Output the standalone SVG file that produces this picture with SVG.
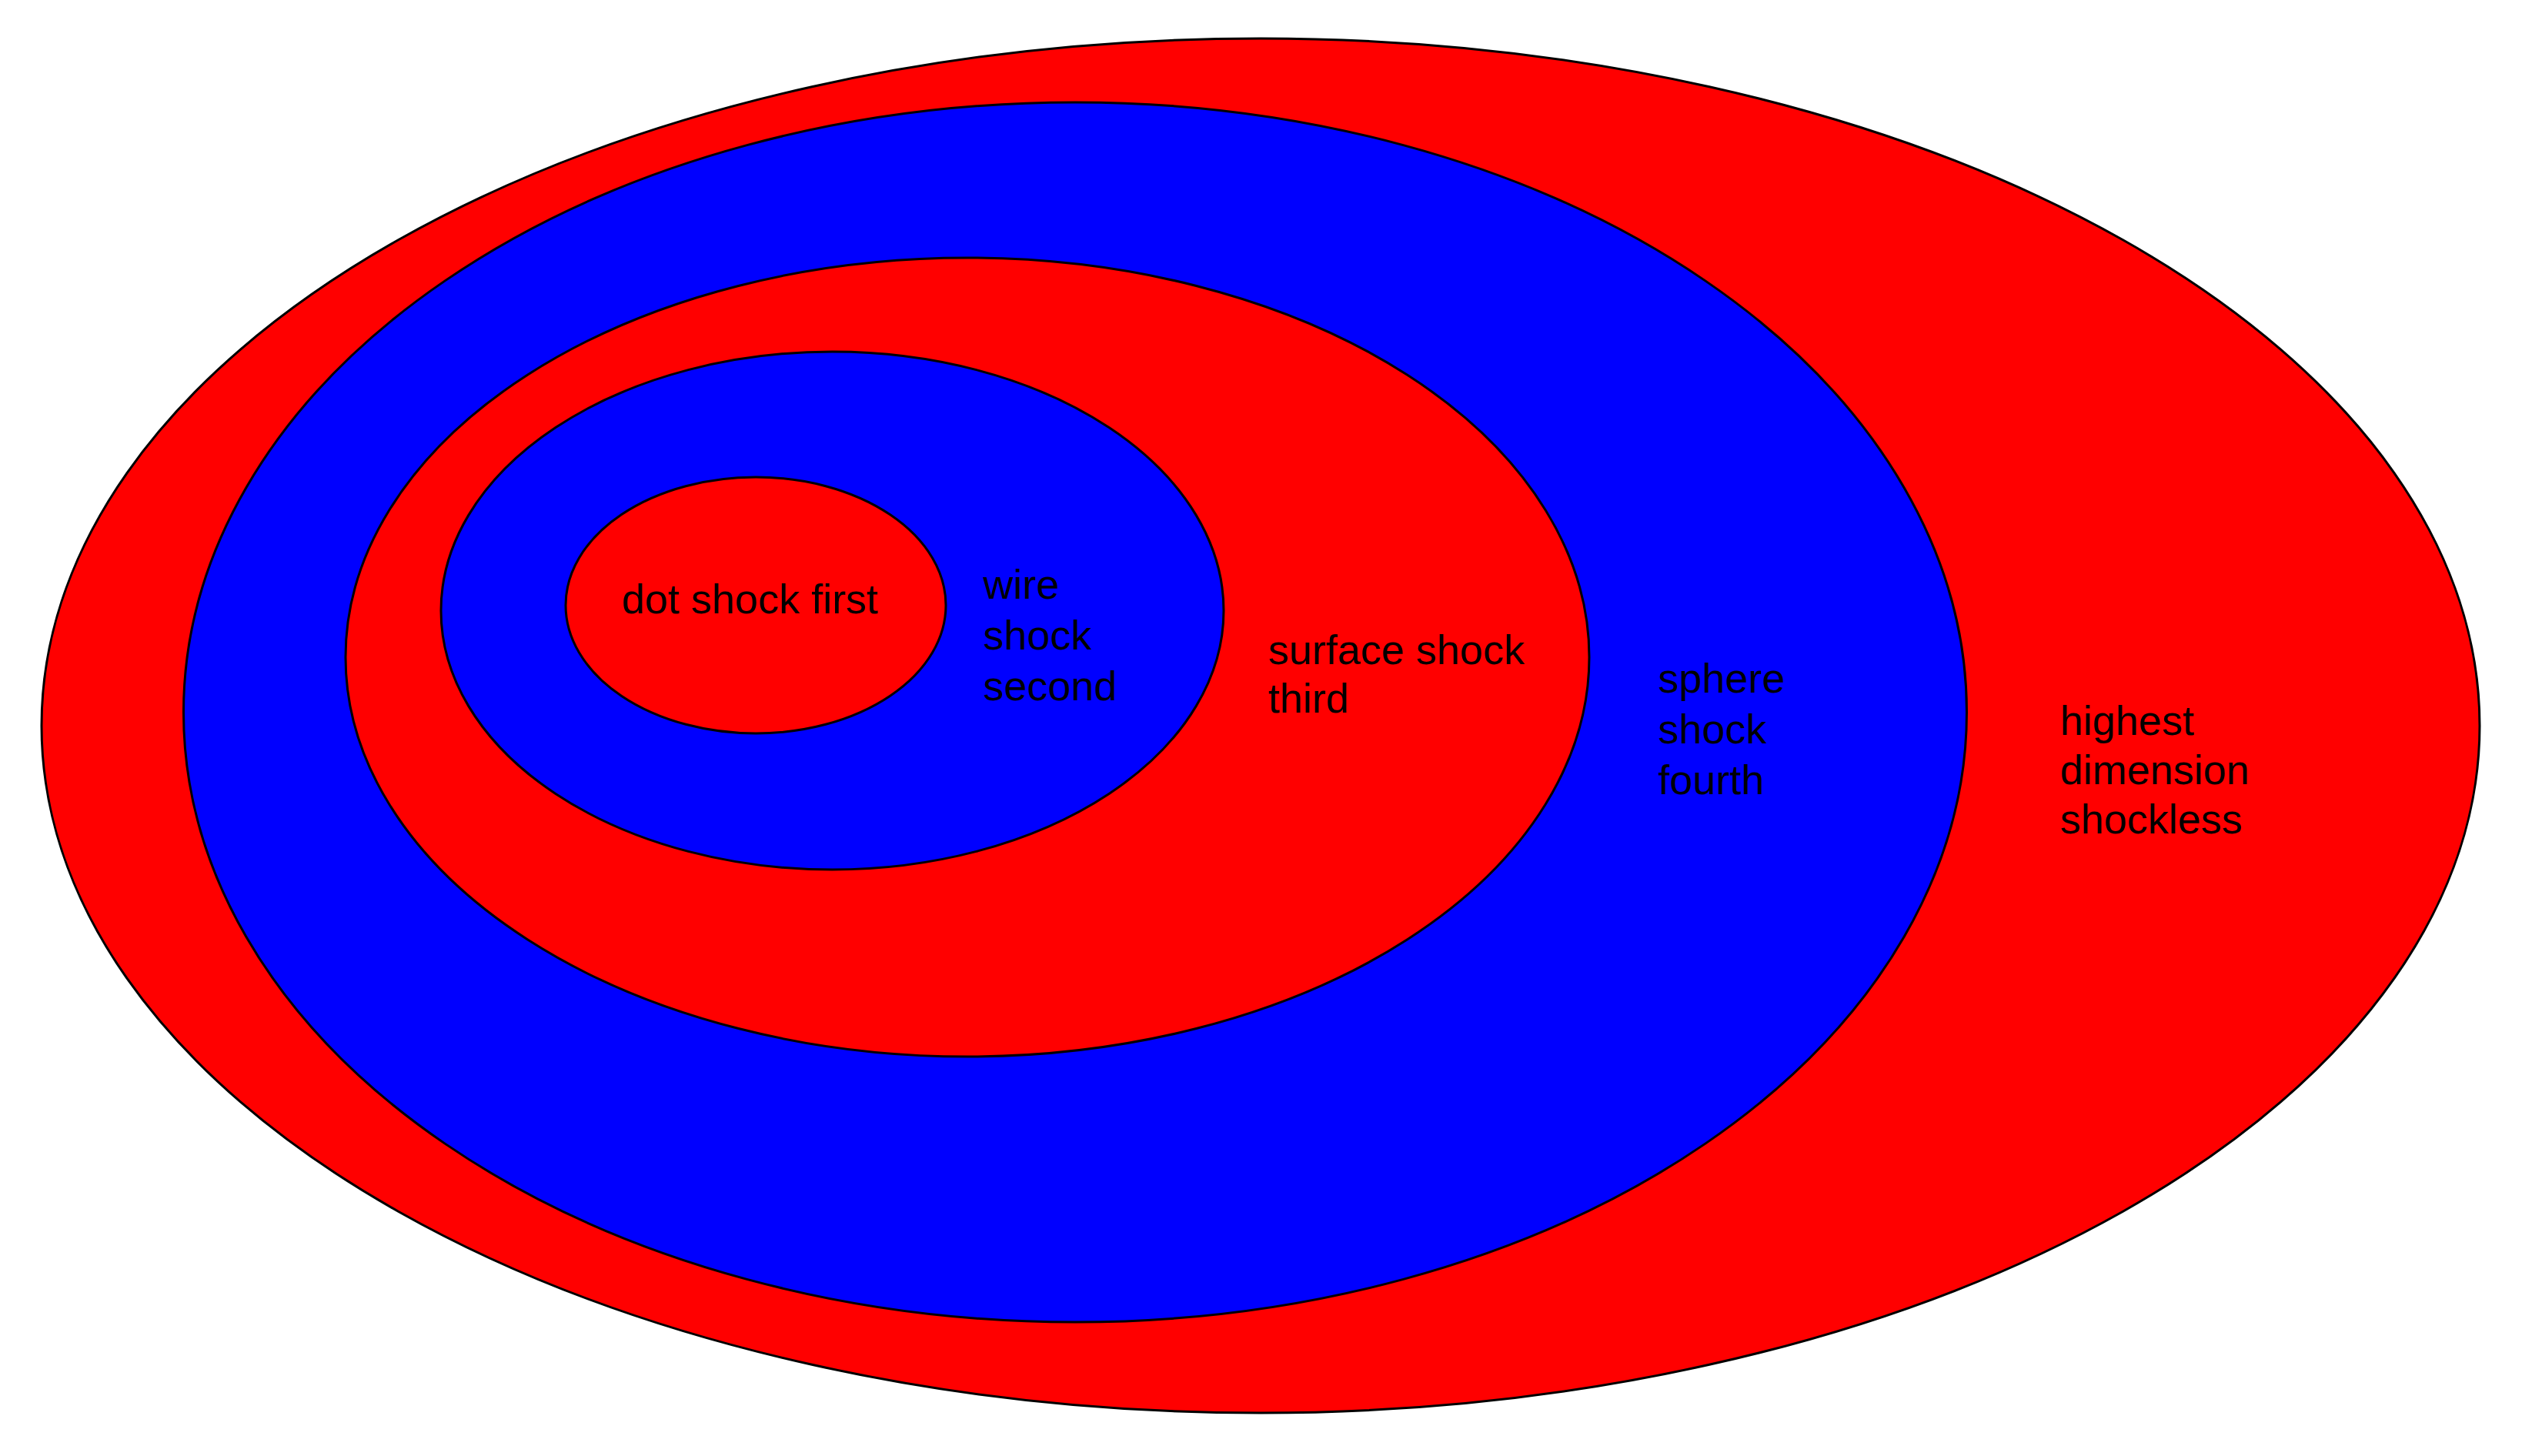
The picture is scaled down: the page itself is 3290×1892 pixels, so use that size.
<svg xmlns="http://www.w3.org/2000/svg" width="3290" height="1892" viewBox="0 0 3290 1892">
<style>
.red{fill:#FF0000;stroke:#000;stroke-width:3}
.blue{fill:#0000FF;stroke:#000;stroke-width:3}
text{font-family:"Liberation Sans",Arial,sans-serif;font-size:54px;fill:#000}
</style>
<rect width="3290" height="1892" fill="#fff"/>
<g id="highest-dimension">
<ellipse class="red" cx="1638" cy="943" rx="1584" ry="893"/>
<text x="2677" y="955">highest</text>
<text x="2677" y="1019">dimension</text>
<text x="2677" y="1083">shockless</text>
</g>
<g id="sphere-shock">
<ellipse class="blue" cx="1397" cy="925.5" rx="1158.5" ry="792.5"/>
<text x="2154" y="900">sphere</text>
<text x="2154" y="966">shock</text>
<text x="2154" y="1032">fourth</text>
</g>
<g id="surface-shock">
<ellipse class="red" cx="1257" cy="854" rx="808" ry="519"/>
<text x="1648" y="863">surface shock</text>
<text x="1648" y="926">third</text>
</g>
<g id="wire-shock">
<ellipse class="blue" cx="1081.5" cy="793.5" rx="508.5" ry="336.5"/>
<text x="1277" y="778">wire</text>
<text x="1277" y="844">shock</text>
<text x="1277" y="910">second</text>
</g>
<g id="dot-shock">
<ellipse class="red" cx="982" cy="786.5" rx="247" ry="166.5"/>
<text x="808" y="797">dot shock first</text>
</g>
<g id="connectors"/>
</svg>
